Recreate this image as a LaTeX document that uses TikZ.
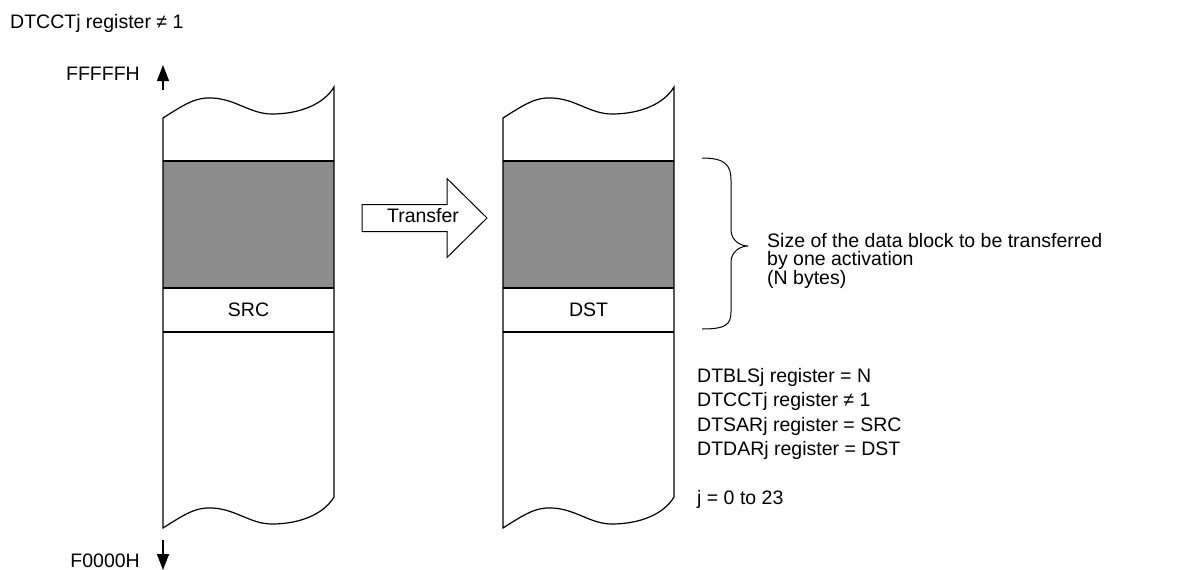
\documentclass[tikz,border=0pt]{standalone}
\usepackage{fontspec}
\setmainfont{Liberation Sans}
\usetikzlibrary{arrows.meta}
\definecolor{blockgray}{RGB}{140,140,140}

\begin{document}
\begin{tikzpicture}[x=1pt,y=-1pt,
mem/.style={line width=1.2pt},
lbl/.style={inner sep=0pt,font=\fontsize{19.5}{24.5}\selectfont},
addr/.style={-{Triangle[width=12pt,length=16pt]},line width=1.3pt}]
\useasboundingbox (0,0) rectangle (1179,570);
% memory areas: source and destination
\foreach \dx/\lab in {0/SRC,340/DST}{
\begin{scope}[xshift=\dx pt]
\fill[blockgray] (163,161) rectangle (334,288);
\draw[mem] (163,161) -- (334,161) (163,288) -- (334,288) (163,332) -- (334,332);
\draw[mem] (163,118) .. controls (185,104) and (196,97) .. (212,98) .. controls (236,99) and (250,114) .. (272,114) .. controls (300,114) and (324,104) .. (334,87)
 -- (334,497) .. controls (324,514) and (300,524) .. (272,524) .. controls (250,524) and (236,509) .. (212,508) .. controls (196,507) and (185,514) .. (163,528) -- cycle;
\node[lbl] (\lab) at (248.5,310) {\lab};
\end{scope}}
% transfer arrow
\draw[line width=1pt] (362,204.5) -- (447,204.5) -- (447,178.5) -- (487,218) -- (447,257.5) -- (447,231.5) -- (362,231.5) -- cycle;
\node[lbl] (xfer) at (423,216) {Transfer};
% brace over the block
\draw[line width=1pt] (702,158) .. controls (725,158) and (731,165) .. (731,180) -- (731,230) .. controls (731,240) and (740,246) .. (748,246)
 .. controls (740,246) and (731,252) .. (731,262) -- (731,312) .. controls (731,325) and (725,329) .. (702,329);
\node[lbl,anchor=north west,align=left,font=\fontsize{19.5}{18.5}\selectfont] (size) at (767,233) {Size of the data block to be transferred\\by one activation\\(N bytes)};
% address labels
\node[lbl,anchor=base west] (cond) at (10,28) {DTCCTj register ≠ 1};
\node[lbl,anchor=base east] (hi) at (140,80) {FFFFFH};
\node[lbl,anchor=base east] (lo) at (140,567) {F0000H};
\coordinate (hibot) at (163,90); \coordinate (hitop) at (163,65);
\coordinate (lotop) at (163,540); \coordinate (lobot) at (163,570);
\draw[addr] (hibot) -- (hitop);
\draw[addr] (lotop) -- (lobot);
% register settings
\node[lbl,anchor=north west,align=left] (regs) at (697,368) {DTBLSj register = N\\DTCCTj register ≠ 1\\DTSARj register = SRC\\DTDARj register = DST\\[24.5pt]j = 0 to 23};
\end{tikzpicture}
\end{document}
